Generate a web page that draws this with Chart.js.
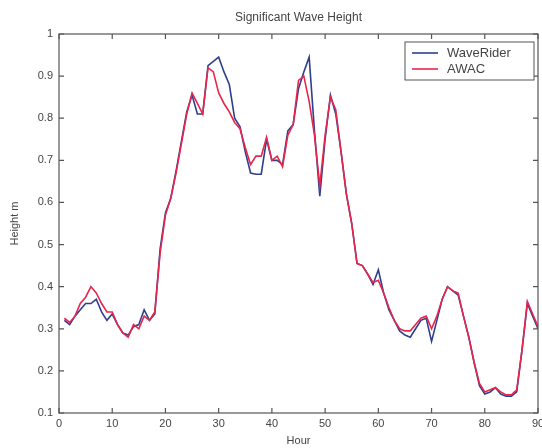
<!DOCTYPE html>
<html>
<head>
<meta charset="utf-8">
<script src="https://cdn.jsdelivr.net/npm/chart.js@4.4.1/dist/chart.umd.min.js"></script>
<style>
  html, body { margin: 0; padding: 0; background: #ffffff; }
  #wrap { width: 542px; height: 448px; }
</style>
</head>
<body>
<div id="wrap"><canvas id="c" width="542" height="448"></canvas></div>
<script>
const hours = [];
for (let h = 1; h <= 90; h++) hours.push(h);

const waveRider = [
  0.32, 0.31, 0.33, 0.345, 0.36, 0.36, 0.37, 0.34, 0.32, 0.335,
  0.31, 0.29, 0.285, 0.305, 0.31, 0.345, 0.32, 0.335, 0.49, 0.575,
  0.61, 0.675, 0.745, 0.815, 0.855, 0.81, 0.81, 0.925, 0.935, 0.945,
  0.91, 0.88, 0.80, 0.78, 0.72, 0.67, 0.667, 0.667, 0.75, 0.70,
  0.70, 0.69, 0.77, 0.785, 0.87, 0.91, 0.945, 0.77, 0.615, 0.75,
  0.855, 0.81, 0.72, 0.62, 0.55, 0.455, 0.45, 0.43, 0.405, 0.44,
  0.385, 0.345, 0.32, 0.295, 0.285, 0.28, 0.30, 0.32, 0.325, 0.27,
  0.32, 0.37, 0.40, 0.39, 0.38, 0.33, 0.28, 0.22, 0.165, 0.145,
  0.15, 0.16, 0.145, 0.14, 0.14, 0.15, 0.25, 0.36, 0.33, 0.30
];

const awac = [
  0.325, 0.315, 0.33, 0.36, 0.375, 0.40, 0.385, 0.36, 0.34, 0.34,
  0.31, 0.29, 0.28, 0.31, 0.30, 0.33, 0.32, 0.34, 0.48, 0.57,
  0.61, 0.67, 0.74, 0.81, 0.86, 0.835, 0.81, 0.92, 0.91, 0.86,
  0.835, 0.815, 0.79, 0.775, 0.73, 0.69, 0.71, 0.71, 0.755, 0.70,
  0.71, 0.685, 0.76, 0.785, 0.89, 0.90, 0.84, 0.76, 0.64, 0.76,
  0.85, 0.82, 0.72, 0.62, 0.55, 0.455, 0.45, 0.43, 0.41, 0.415,
  0.385, 0.35, 0.32, 0.30, 0.295, 0.295, 0.31, 0.325, 0.33, 0.30,
  0.33, 0.37, 0.40, 0.39, 0.385, 0.33, 0.28, 0.22, 0.17, 0.15,
  0.155, 0.16, 0.15, 0.143, 0.143, 0.155, 0.25, 0.365, 0.335, 0.305
];

const seriesNames = ['WaveRider', 'AWAC'];
const chartTitle = 'Significant Wave Height';
const xTicks = [0, 10, 20, 30, 40, 50, 60, 70, 80, 90];
const yTicks = [0.1, 0.2, 0.3, 0.4, 0.5, 0.6, 0.7, 0.8, 0.9, 1];

const AXIS = '#555555';
const TEXT = '#444444';
const FONT = '"Liberation Sans", Arial, sans-serif';

const frame = {
  id: 'frame',
  afterDatasetsDraw(chart) {
    const {ctx, chartArea: a, scales} = chart;
    ctx.save();
    // title centred over the plot area
    ctx.fillStyle = TEXT;
    ctx.font = '12px ' + FONT;
    ctx.textAlign = 'center';
    ctx.textBaseline = 'middle';
    ctx.fillText(chartTitle, (a.left + a.right) / 2, 18);

    ctx.strokeStyle = AXIS;
    ctx.lineWidth = 1.2;
    ctx.strokeRect(a.left, a.top, a.right - a.left, a.bottom - a.top);
    const L = 5;
    ctx.beginPath();
    xTicks.forEach(v => {
      const x = scales.x.getPixelForValue(v);
      ctx.moveTo(x, a.bottom); ctx.lineTo(x, a.bottom - L);
      ctx.moveTo(x, a.top); ctx.lineTo(x, a.top + L);
    });
    yTicks.forEach(v => {
      const y = scales.y.getPixelForValue(v);
      ctx.moveTo(a.left, y); ctx.lineTo(a.left + L, y);
      ctx.moveTo(a.right, y); ctx.lineTo(a.right - L, y);
    });
    ctx.stroke();

    // legend box
    const bx = 405, by = 42, bw = 129, bh = 38;
    ctx.fillStyle = '#ffffff';
    ctx.fillRect(bx, by, bw, bh);
    ctx.strokeStyle = AXIS;
    ctx.lineWidth = 1;
    ctx.strokeRect(bx, by, bw, bh);
    ctx.font = '13px ' + FONT;
    ctx.textBaseline = 'middle';
    ctx.textAlign = 'left';
    chart.data.datasets.forEach((ds, i) => {
      const yy = by + 11 + i * 16;
      ctx.strokeStyle = ds.borderColor;
      ctx.lineWidth = 1.6;
      ctx.beginPath();
      ctx.moveTo(bx + 7, yy); ctx.lineTo(bx + 33, yy);
      ctx.stroke();
      ctx.fillStyle = TEXT;
      ctx.fillText(ds.label, bx + 42, yy);
    });
    ctx.restore();
  }
};

new Chart(document.getElementById('c'), {
  type: 'line',
  data: {
    labels: hours,
    datasets: [
      { label: seriesNames[0], data: waveRider, borderColor: '#2f3f8f', borderWidth: 1.6, pointRadius: 0, tension: 0, order: 1 },
      { label: seriesNames[1], data: awac, borderColor: '#e8264c', borderWidth: 1.6, pointRadius: 0, tension: 0, order: 0 }
    ]
  },
  options: {
    responsive: false,
    animation: false,
    layout: { padding: { left: 0, right: 4, top: 34, bottom: 0 } },
    plugins: {
      legend: { display: false },
      tooltip: { enabled: false },
      title: { display: false }
    },
    scales: {
      x: {
        type: 'linear',
        min: 0, max: 90,
        afterBuildTicks(scale) { scale.ticks = xTicks.map(v => ({ value: v })); },
        afterFit(scale) { scale.height = 35; scale.paddingRight = 0; scale.paddingLeft = 0; },
        grid: { display: false, drawTicks: false },
        border: { display: false },
        ticks: { color: TEXT, padding: 4, maxRotation: 0, autoSkip: false, font: { family: FONT, size: 11 } },
        title: { display: true, text: 'Hour', color: TEXT, padding: { top: 0, bottom: 0 }, font: { family: FONT, size: 11 } }
      },
      y: {
        min: 0.1, max: 1,
        afterBuildTicks(scale) { scale.ticks = yTicks.map(v => ({ value: v })); },
        afterFit(scale) { scale.width = 59; scale.paddingTop = 0; scale.paddingBottom = 0; },
        grid: { display: false, drawTicks: false },
        border: { display: false },
        ticks: {
          color: TEXT, padding: 6, autoSkip: false,
          font: { family: FONT, size: 11 },
          callback: v => String(Number(v.toFixed(1)))
        },
        title: { display: true, text: 'Height m', color: TEXT, padding: { top: 8, bottom: 0 }, font: { family: FONT, size: 11 } }
      }
    }
  },
  plugins: [frame]
});
</script>
</body>
</html>
